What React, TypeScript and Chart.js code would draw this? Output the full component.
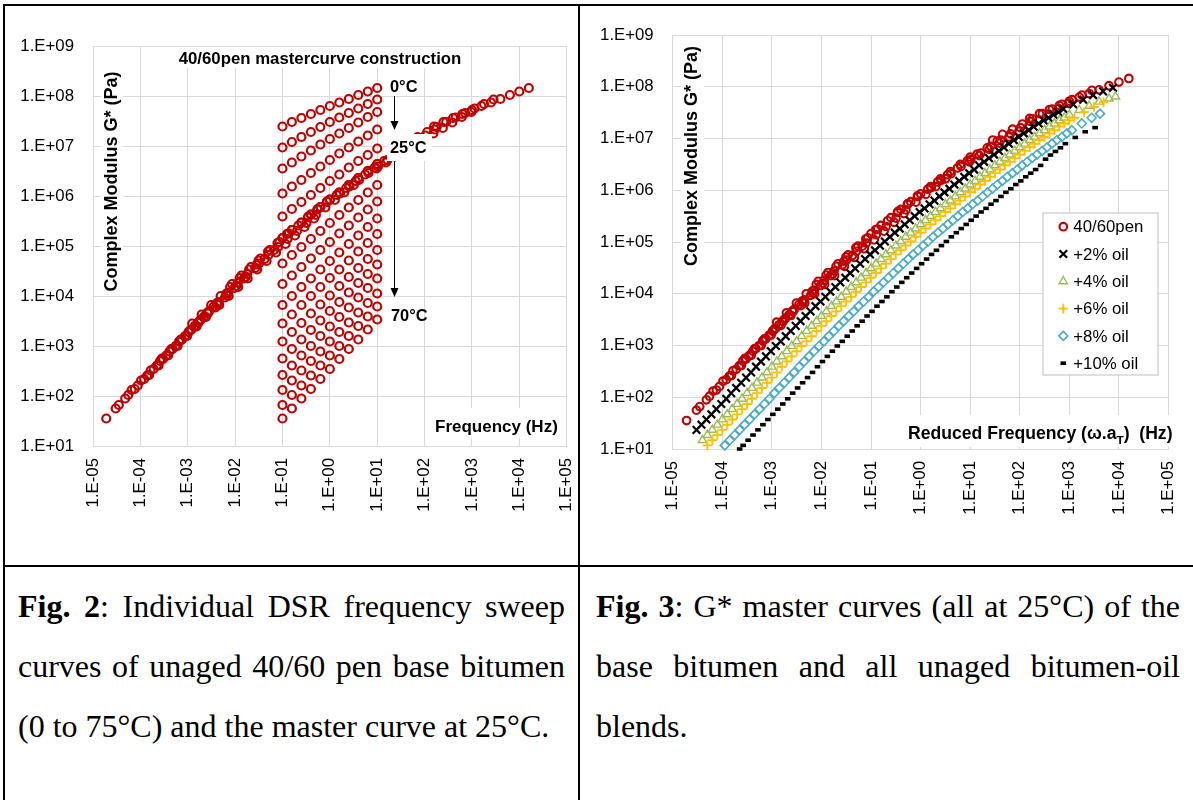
import React, { useEffect, useRef } from 'react';
import { Chart, registerables } from 'chart.js';
import { drawPoint } from 'chart.js/helpers';

Chart.register(...registerables);

// ---------------- data ----------------
const xTickValues = [1e-5, 1e-4, 1e-3, 1e-2, 1e-1, 1e0, 1e1, 1e2, 1e3, 1e4, 1e5];
const xTickLabels = ['1.E-05', '1.E-04', '1.E-03', '1.E-02', '1.E-01', '1.E+00', '1.E+01', '1.E+02', '1.E+03', '1.E+04', '1.E+05'];
const yTickValues = [1e1, 1e2, 1e3, 1e4, 1e5, 1e6, 1e7, 1e8, 1e9];
const yTickLabels = ['1.E+01', '1.E+02', '1.E+03', '1.E+04', '1.E+05', '1.E+06', '1.E+07', '1.E+08', '1.E+09'];

// Individual DSR frequency sweeps (40/60 pen, unaged), 0 to 75 °C
const sweepTempsC = [0, 5, 10, 15, 20, 25, 30, 35, 40, 45, 50, 55, 60, 65, 70, 75];
const sweepFreqHz = [0.1, 0.158, 0.251, 0.398, 0.631, 1, 1.585, 2.512, 3.981, 6.31, 10];
// log10 |G*| (Pa), one row per temperature
const sweepLogModulus = [
  [7.39, 7.48, 7.56, 7.64, 7.72, 7.80, 7.87, 7.94, 8.02, 8.09, 8.16], // 0
  [6.97, 7.08, 7.18, 7.28, 7.38, 7.48, 7.57, 7.66, 7.75, 7.84, 7.93], // 5
  [6.55, 6.67, 6.79, 6.91, 7.03, 7.14, 7.25, 7.36, 7.47, 7.58, 7.68], // 10
  [6.05, 6.19, 6.32, 6.46, 6.59, 6.72, 6.85, 6.97, 7.09, 7.21, 7.33], // 15
  [5.59, 5.74, 5.88, 6.02, 6.16, 6.30, 6.43, 6.57, 6.70, 6.82, 6.95], // 20
  [5.16, 5.32, 5.47, 5.63, 5.78, 5.93, 6.07, 6.22, 6.36, 6.50, 6.64], // 25
  [4.65, 4.82, 4.98, 5.14, 5.30, 5.46, 5.62, 5.77, 5.92, 6.07, 6.22], // 30
  [4.24, 4.41, 4.58, 4.75, 4.92, 5.08, 5.25, 5.41, 5.57, 5.73, 5.89], // 35
  [3.82, 4.00, 4.18, 4.35, 4.53, 4.70, 4.87, 5.04, 5.21, 5.38, 5.55], // 40
  [3.45, 3.63, 3.82, 4.00, 4.18, 4.36, 4.53, 4.71, 4.89, 5.06, 5.24], // 45
  [3.09, 3.28, 3.46, 3.65, 3.83, 4.01, 4.20, 4.38, 4.56, 4.74, 4.92], // 50
  [2.75, 2.94, 3.13, 3.32, 3.51, 3.70, 3.88, 4.07, 4.26, 4.44, 4.63], // 55
  [2.42, 2.61, 2.81, 3.00, 3.20, 3.39, 3.58, 3.77, 3.97, 4.16, 4.35], // 60
  [2.12, 2.31, 2.51, 2.70, 2.89, 3.09, 3.28, 3.47, 3.67, 3.86, 4.05], // 65
  [1.82, 2.02, 2.21, 2.41, 2.61, 2.81, 3.00, 3.20, 3.40, 3.59, 3.79], // 70
  [1.55, 1.75, 1.95, 2.14, 2.34, 2.54, 2.74, 2.94, 3.13, 3.33, 3.53], // 75
];
// log10 shift factor aT of each sweep to the 25 °C reference
const shiftLogAT = [3.2, 2.455, 1.985, 1.215, 0.545, 0, -0.495, -1.065, -1.335, -1.905, -2.175, -2.545, -2.815, -3.185, -3.455, -3.72];

// Master curves of the oil blends: [log10 reduced frequency, log10 |G*|]
const oil2 = [
  [-4.52, 1.37], [-4.42, 1.47], [-4.32, 1.57], [-4.22, 1.67], [-4.12, 1.77], [-4.02, 1.87], [-3.92, 1.97], [-3.82, 2.08], [-3.72, 2.18], [-3.62, 2.28],
  [-3.52, 2.38], [-3.42, 2.48], [-3.32, 2.59], [-3.22, 2.69], [-3.12, 2.79], [-3.02, 2.89], [-2.92, 2.99], [-2.82, 3.08], [-2.72, 3.18], [-2.62, 3.28],
  [-2.52, 3.38], [-2.42, 3.47], [-2.32, 3.57], [-2.22, 3.66], [-2.12, 3.76], [-2.02, 3.85], [-1.92, 3.94], [-1.82, 4.04], [-1.72, 4.13], [-1.62, 4.22],
  [-1.52, 4.31], [-1.42, 4.40], [-1.32, 4.49], [-1.22, 4.58], [-1.12, 4.67], [-1.02, 4.76], [-0.92, 4.84], [-0.82, 4.93], [-0.72, 5.01], [-0.62, 5.10],
  [-0.52, 5.18], [-0.42, 5.26], [-0.32, 5.34], [-0.22, 5.42], [-0.12, 5.50], [-0.02, 5.58], [0.08, 5.65], [0.18, 5.73], [0.28, 5.80], [0.38, 5.88],
  [0.48, 5.96], [0.58, 6.03], [0.68, 6.11], [0.78, 6.18], [0.88, 6.26], [0.98, 6.33], [1.08, 6.40], [1.18, 6.48], [1.28, 6.55], [1.38, 6.62],
  [1.48, 6.69], [1.58, 6.76], [1.68, 6.83], [1.78, 6.90], [1.88, 6.97], [1.98, 7.03], [2.08, 7.10], [2.18, 7.16], [2.28, 7.23], [2.38, 7.29],
  [2.48, 7.35], [2.58, 7.40], [2.68, 7.46], [2.78, 7.51], [2.88, 7.57], [3.08, 7.66], [3.28, 7.75], [3.48, 7.84], [3.68, 7.91], [3.88, 7.98],
];
const oil4 = [
  [-4.40, 1.17], [-4.30, 1.27], [-4.20, 1.37], [-4.10, 1.47], [-4.00, 1.57], [-3.90, 1.67], [-3.80, 1.77], [-3.70, 1.87], [-3.60, 1.97], [-3.50, 2.08],
  [-3.40, 2.18], [-3.30, 2.28], [-3.20, 2.38], [-3.10, 2.48], [-3.00, 2.59], [-2.90, 2.69], [-2.80, 2.79], [-2.70, 2.89], [-2.60, 2.99], [-2.50, 3.08],
  [-2.40, 3.18], [-2.30, 3.28], [-2.20, 3.38], [-2.10, 3.47], [-2.00, 3.57], [-1.90, 3.66], [-1.80, 3.76], [-1.70, 3.85], [-1.60, 3.94], [-1.50, 4.04],
  [-1.40, 4.13], [-1.30, 4.22], [-1.20, 4.31], [-1.10, 4.40], [-1.00, 4.49], [-0.90, 4.58], [-0.80, 4.67], [-0.70, 4.76], [-0.60, 4.84], [-0.50, 4.93],
  [-0.40, 5.01], [-0.30, 5.10], [-0.20, 5.18], [-0.10, 5.26], [0.00, 5.34], [0.10, 5.42], [0.20, 5.50], [0.30, 5.58], [0.40, 5.65], [0.50, 5.73],
  [0.60, 5.80], [0.70, 5.88], [0.80, 5.96], [0.90, 6.03], [1.00, 6.11], [1.10, 6.18], [1.20, 6.26], [1.30, 6.33], [1.40, 6.40], [1.50, 6.48],
  [1.60, 6.55], [1.70, 6.62], [1.80, 6.69], [1.90, 6.76], [2.00, 6.83], [2.10, 6.90], [2.20, 6.97], [2.30, 7.03], [2.40, 7.10], [2.50, 7.16],
  [2.60, 7.23], [2.70, 7.29], [2.80, 7.35], [2.90, 7.40], [3.00, 7.46], [3.20, 7.55], [3.40, 7.63], [3.60, 7.71], [3.80, 7.77], [3.93, 7.81],
];
const oil6 = [
  [-4.30, 1.07], [-4.20, 1.17], [-4.10, 1.27], [-4.00, 1.37], [-3.90, 1.47], [-3.80, 1.57], [-3.70, 1.67], [-3.60, 1.77], [-3.50, 1.87], [-3.40, 1.97],
  [-3.30, 2.08], [-3.20, 2.18], [-3.10, 2.28], [-3.00, 2.38], [-2.90, 2.48], [-2.80, 2.59], [-2.70, 2.69], [-2.60, 2.79], [-2.50, 2.89], [-2.40, 2.99],
  [-2.30, 3.08], [-2.20, 3.18], [-2.10, 3.28], [-2.00, 3.38], [-1.90, 3.47], [-1.80, 3.57], [-1.70, 3.66], [-1.60, 3.76], [-1.50, 3.85], [-1.40, 3.94],
  [-1.30, 4.04], [-1.20, 4.13], [-1.10, 4.22], [-1.00, 4.31], [-0.90, 4.40], [-0.80, 4.49], [-0.70, 4.58], [-0.60, 4.67], [-0.50, 4.76], [-0.40, 4.84],
  [-0.30, 4.93], [-0.20, 5.01], [-0.10, 5.10], [0.00, 5.18], [0.10, 5.26], [0.20, 5.34], [0.30, 5.42], [0.40, 5.50], [0.50, 5.58], [0.60, 5.65],
  [0.70, 5.73], [0.80, 5.80], [0.90, 5.88], [1.00, 5.96], [1.10, 6.03], [1.20, 6.11], [1.30, 6.18], [1.40, 6.26], [1.50, 6.33], [1.60, 6.40],
  [1.70, 6.48], [1.80, 6.55], [1.90, 6.62], [2.00, 6.69], [2.10, 6.76], [2.20, 6.83], [2.30, 6.90], [2.40, 6.97], [2.50, 7.03], [2.60, 7.10],
  [2.70, 7.16], [2.80, 7.23], [2.90, 7.29], [3.00, 7.35], [3.10, 7.40], [3.30, 7.51], [3.50, 7.61], [3.69, 7.70],
];
const oil8 = [
  [-3.95, 1.07], [-3.85, 1.17], [-3.75, 1.27], [-3.65, 1.37], [-3.55, 1.47], [-3.45, 1.57], [-3.35, 1.67], [-3.25, 1.77], [-3.15, 1.87], [-3.05, 1.97],
  [-2.95, 2.08], [-2.85, 2.18], [-2.75, 2.28], [-2.65, 2.38], [-2.55, 2.48], [-2.45, 2.59], [-2.35, 2.69], [-2.25, 2.79], [-2.15, 2.89], [-2.05, 2.99],
  [-1.95, 3.08], [-1.85, 3.18], [-1.75, 3.28], [-1.65, 3.38], [-1.55, 3.47], [-1.45, 3.57], [-1.35, 3.66], [-1.25, 3.76], [-1.15, 3.85], [-1.05, 3.94],
  [-0.95, 4.04], [-0.85, 4.13], [-0.75, 4.22], [-0.65, 4.31], [-0.55, 4.40], [-0.45, 4.49], [-0.35, 4.58], [-0.25, 4.67], [-0.15, 4.76], [-0.05, 4.84],
  [0.05, 4.93], [0.15, 5.01], [0.25, 5.10], [0.35, 5.18], [0.45, 5.26], [0.55, 5.34], [0.65, 5.42], [0.75, 5.50], [0.85, 5.58], [0.95, 5.65],
  [1.05, 5.73], [1.15, 5.80], [1.25, 5.88], [1.35, 5.96], [1.45, 6.03], [1.55, 6.11], [1.65, 6.18], [1.75, 6.26], [1.85, 6.33], [1.95, 6.40],
  [2.05, 6.48], [2.15, 6.55], [2.25, 6.62], [2.35, 6.69], [2.45, 6.76], [2.55, 6.83], [2.65, 6.90], [2.75, 6.97], [2.85, 7.03], [2.95, 7.10],
  [3.05, 7.16], [3.25, 7.29], [3.45, 7.40], [3.62, 7.48],
];
const oil10 = [
  [-3.65, 1.00], [-3.58, 1.07], [-3.48, 1.17], [-3.38, 1.27], [-3.28, 1.37], [-3.18, 1.47], [-3.08, 1.57], [-2.98, 1.67], [-2.88, 1.77], [-2.78, 1.87],
  [-2.68, 1.97], [-2.58, 2.08], [-2.48, 2.18], [-2.38, 2.28], [-2.28, 2.38], [-2.18, 2.48], [-2.08, 2.59], [-1.98, 2.69], [-1.88, 2.79], [-1.78, 2.89],
  [-1.68, 2.99], [-1.58, 3.08], [-1.48, 3.18], [-1.38, 3.28], [-1.28, 3.38], [-1.18, 3.47], [-1.08, 3.57], [-0.98, 3.66], [-0.88, 3.76], [-0.78, 3.85],
  [-0.68, 3.94], [-0.58, 4.04], [-0.48, 4.13], [-0.38, 4.22], [-0.28, 4.31], [-0.18, 4.40], [-0.08, 4.49], [0.02, 4.58], [0.12, 4.67], [0.22, 4.76],
  [0.32, 4.84], [0.42, 4.93], [0.52, 5.01], [0.62, 5.10], [0.72, 5.18], [0.82, 5.26], [0.92, 5.34], [1.02, 5.42], [1.12, 5.50], [1.22, 5.58],
  [1.32, 5.65], [1.42, 5.73], [1.52, 5.80], [1.62, 5.88], [1.72, 5.96], [1.82, 6.03], [1.92, 6.11], [2.02, 6.18], [2.12, 6.26], [2.22, 6.33],
  [2.32, 6.40], [2.42, 6.48], [2.52, 6.60], [2.62, 6.68], [2.72, 6.75], [2.82, 6.82], [2.92, 6.90], [3.12, 7.02], [3.32, 7.13], [3.52, 7.21],
];
const seriesLabels = ['40/60pen', '+2% oil', '+4% oil', '+6% oil', '+8% oil', '+10% oil'];

// ---------------- fonts ----------------
const FONT = '"Liberation Sans", Arial, Helvetica, sans-serif';
const SERIF = '"Liberation Serif", "Times New Roman", Times, serif';

// ---------------- derived tables ----------------
type Pt = { x: number; y: number };
const sweepPoints: Pt[] = [];
const masterPoints: Pt[] = [];
sweepLogModulus.forEach((row, i) => {
  row.forEach((lg, j) => {
    sweepPoints.push({ x: sweepFreqHz[j], y: 10 ** lg });
    masterPoints.push({ x: sweepFreqHz[j] * 10 ** shiftLogAT[i], y: 10 ** lg });
  });
});
const pairsToPoints = (pairs: number[][]): Pt[] => pairs.map(([lf, lg]) => ({ x: 10 ** lf, y: 10 ** lg }));
const oilSeries = [oil2, oil4, oil6, oil8, oil10].map(pairsToPoints);

// ---------------- styles ----------------
const RED = '#C00000';
const GRID = '#D9D9D9';
const baseStyleLeft = { pointStyle: 'circle', radius: 4, borderWidth: 2.2, color: RED };
const seriesStyles = [
  { pointStyle: 'circle', radius: 3.8, borderWidth: 2.1, color: RED },
  { pointStyle: 'crossRot', radius: 5.4, borderWidth: 2.2, color: '#000000' },
  { pointStyle: 'triangle', radius: 4.8, borderWidth: 1.4, color: '#9BBB59' },
  { pointStyle: 'cross', radius: 4.8, borderWidth: 1.9, color: '#FFC000' },
  { pointStyle: 'rectRot', radius: 4.5, borderWidth: 1.6, color: '#4BACC6' },
  { pointStyle: 'line', radius: 2.8, borderWidth: 3.6, color: '#000000' },
];

function dataset(label: string, data: Pt[], s: any, order: number) {
  return {
    label,
    data,
    order,
    showLine: false,
    clip: false,
    pointStyle: s.pointStyle,
    pointRadius: s.radius,
    pointHoverRadius: s.radius,
    pointBorderWidth: s.borderWidth,
    pointBorderColor: s.color,
    pointBackgroundColor: 'rgba(0,0,0,0)',
    borderColor: s.color,
    backgroundColor: 'rgba(0,0,0,0)',
  };
}

function logAxis(isX: boolean, fitSize: number) {
  const values = isX ? xTickValues : yTickValues;
  const labels = isX ? xTickLabels : yTickLabels;
  return {
    type: 'logarithmic',
    position: isX ? 'bottom' : 'left',
    min: values[0],
    max: values[values.length - 1],
    afterBuildTicks: (axis: any) => {
      axis.ticks = values.map((v) => ({ value: v }));
    },
    afterFit: (axis: any) => {
      if (isX) {
        axis.height = fitSize;
        axis.paddingLeft = 0;
        axis.paddingRight = 0;
      } else {
        axis.width = fitSize;
        axis.paddingTop = 0;
        axis.paddingBottom = 0;
      }
    },
    ticks: {
      autoSkip: false,
      minRotation: isX ? 90 : 0,
      maxRotation: isX ? 90 : 0,
      padding: isX ? 12 : 19,
      color: '#000',
      font: { family: FONT, size: 16.8 },
      callback: (_v: any, i: number) => labels[i],
    },
    grid: { color: GRID, lineWidth: 1, drawTicks: false },
    border: { color: GRID, width: 1 },
  };
}

function whiteBox(ctx: CanvasRenderingContext2D, x: number, y: number, w: number, h: number) {
  ctx.fillStyle = '#ffffff';
  ctx.fillRect(x, y, w, h);
}

function arrowDown(ctx: CanvasRenderingContext2D, x: number, y0: number, tip: number) {
  ctx.strokeStyle = '#000';
  ctx.lineWidth = 1;
  ctx.beginPath();
  ctx.moveTo(x, y0);
  ctx.lineTo(x, tip - 6);
  ctx.stroke();
  ctx.fillStyle = '#000';
  ctx.beginPath();
  ctx.moveTo(x - 4, tip - 9);
  ctx.lineTo(x + 4, tip - 9);
  ctx.lineTo(x, tip);
  ctx.closePath();
  ctx.fill();
}

function verticalTitle(ctx: CanvasRenderingContext2D, text: string, cx: number, cy: number) {
  ctx.save();
  ctx.translate(cx, cy);
  ctx.rotate(-Math.PI / 2);
  ctx.fillStyle = '#000';
  ctx.font = `bold 18px ${FONT}`;
  ctx.textAlign = 'center';
  ctx.textBaseline = 'middle';
  ctx.fillText(text, 0, 0);
  ctx.restore();
}

const leftNotes = {
  id: 'leftNotes',
  afterDraw(chart: any) {
    const ctx: CanvasRenderingContext2D = chart.ctx;
    ctx.save();
    // chart title
    whiteBox(ctx, 176, 47, 290, 21);
    ctx.fillStyle = '#000';
    ctx.font = `bold 16.8px ${FONT}`;
    ctx.textAlign = 'center';
    ctx.textBaseline = 'alphabetic';
    ctx.fillText('40/60pen mastercurve construction', 320, 63.5);
    // y title
    whiteBox(ctx, 101, 69, 22, 226);
    verticalTitle(ctx, 'Complex Modulus G* (Pa)', 112, 181.5);
    // temperature annotations
    ctx.textAlign = 'left';
    ctx.font = `bold 16.4px ${FONT}`;
    ctx.fillStyle = '#000';
    ctx.fillText('0°C', 390, 91.5);
    arrowDown(ctx, 394.5, 96, 130);
    whiteBox(ctx, 387, 134, 45, 27);
    ctx.fillStyle = '#000';
    ctx.fillText('25°C', 390, 152.5);
    arrowDown(ctx, 394.5, 161, 297);
    ctx.fillStyle = '#000';
    ctx.fillText('70°C', 391, 320.5);
    // x title
    whiteBox(ctx, 431, 408, 131, 30);
    ctx.fillStyle = '#000';
    ctx.font = `bold 17px ${FONT}`;
    ctx.fillText('Frequency (Hz)', 435, 431.5);
    ctx.restore();
  },
};

const rightNotes = {
  id: 'rightNotes',
  afterDraw(chart: any) {
    const ctx: CanvasRenderingContext2D = chart.ctx;
    ctx.save();
    // y title
    whiteBox(ctx, 101, 43, 23, 228);
    verticalTitle(ctx, 'Complex Modulus G* (Pa)', 112.5, 156);
    // x title with subscript
    whiteBox(ctx, 322, 415, 280, 32);
    ctx.fillStyle = '#000';
    ctx.textAlign = 'left';
    ctx.textBaseline = 'alphabetic';
    let x = 328;
    const base = 439;
    const p1 = 'Reduced Frequency (\u03C9.a';
    ctx.font = `bold 17.6px ${FONT}`;
    ctx.fillText(p1, x, base);
    x += ctx.measureText(p1).width;
    ctx.font = `bold 11.8px ${FONT}`;
    ctx.fillText('T', x, base + 5);
    x += ctx.measureText('T').width;
    ctx.font = `bold 17.6px ${FONT}`;
    ctx.fillText(')  (Hz)', x, base);
    // legend
    const lx = 462.5, ly = 212.5, lw = 115, lh = 162;
    whiteBox(ctx, lx, ly, lw, lh);
    ctx.strokeStyle = '#BFBFBF';
    ctx.lineWidth = 1;
    ctx.strokeRect(lx + 0.5, ly + 0.5, lw, lh);
    chart.data.datasets.forEach((ds: any, i: number) => {
      const y = 226.7 + i * 27.3;
      ctx.strokeStyle = ds.pointBorderColor;
      ctx.fillStyle = 'rgba(0,0,0,0)';
      ctx.lineWidth = ds.pointBorderWidth;
      drawPoint(ctx, { pointStyle: ds.pointStyle, radius: ds.pointRadius, borderWidth: ds.pointBorderWidth, rotation: 0 } as any, 483.3, y);
      ctx.fillStyle = '#000';
      ctx.font = `16.8px ${FONT}`;
      ctx.textAlign = 'left';
      ctx.textBaseline = 'middle';
      ctx.fillText(ds.label, 493.3, y + 1);
    });
    ctx.restore();
  },
};

function baseOptions(yFit: number, xFit: number, padding: any) {
  return {
    animation: false,
    responsive: false,
    devicePixelRatio: 1,
    events: [],
    layout: { padding },
    plugins: { legend: { display: false }, tooltip: { enabled: false }, title: { display: false } },
    scales: { x: logAxis(true, xFit), y: logAxis(false, yFit) },
  };
}

function LeftChart() {
  const ref = useRef<HTMLCanvasElement>(null);
  useEffect(() => {
    const chart = new Chart(ref.current as HTMLCanvasElement, {
      type: 'scatter',
      data: {
        datasets: [
          dataset('Master curve 25°C', masterPoints, baseStyleLeft, 0),
          dataset('Frequency sweeps', sweepPoints, baseStyleLeft, 1),
        ],
      },
      options: baseOptions(93, 120, { top: 46, right: 12.3, bottom: 0, left: 0 }) as any,
      plugins: [leftNotes],
    });
    return () => chart.destroy();
  }, []);
  return <canvas ref={ref} width={579} height={566} style={{ position: 'absolute', left: 0, top: 0, width: 579, height: 566 }} />;
}

function RightChart() {
  const ref = useRef<HTMLCanvasElement>(null);
  useEffect(() => {
    const datasets = [dataset(seriesLabels[0], masterPoints, seriesStyles[0], 0)].concat(
      oilSeries.map((pts, i) => dataset(seriesLabels[i + 1], pts, seriesStyles[i + 1], -(i + 1)))
    );
    const chart = new Chart(ref.current as HTMLCanvasElement, {
      type: 'scatter',
      data: { datasets },
      options: baseOptions(92.7, 117, { top: 35, right: 24.5, bottom: 0, left: 0 }) as any,
      plugins: [rightNotes],
    });
    return () => chart.destroy();
  }, []);
  return <canvas ref={ref} width={613} height={566} style={{ position: 'absolute', left: 580, top: 0, width: 613, height: 566 }} />;
}

const line = (l: number, t: number, w: number, h: number) => (
  <div style={{ position: 'absolute', left: l, top: t, width: w, height: h, background: '#000' }} />
);

export default function App() {
  const cap: React.CSSProperties = {
    position: 'absolute',
    top: 576,
    fontFamily: SERIF,
    fontSize: 32,
    lineHeight: '60px',
    textAlign: 'justify',
    color: '#000',
  };
  return (
    <div style={{ position: 'absolute', left: 0, top: 0, width: 1193, height: 800, background: '#fff', overflow: 'hidden' }}>
      <LeftChart />
      <RightChart />
      <div style={{ ...cap, left: 18, width: 547 }}>
        <b>Fig. 2</b>: Individual DSR frequency sweep curves of unaged 40/60 pen base bitumen (0 to 75°C) and the master curve at 25°C.
      </div>
      <div style={{ ...cap, left: 596, width: 584 }}>
        <b>Fig. 3</b>: G* master curves (all at 25°C) of the base bitumen and all unaged bitumen-oil blends.
      </div>
      {line(3, 4, 1192, 2)}
      {line(3, 4, 2, 800)}
      {line(578, 4, 2, 800)}
      {line(3, 565, 1192, 2)}
    </div>
  );
}
